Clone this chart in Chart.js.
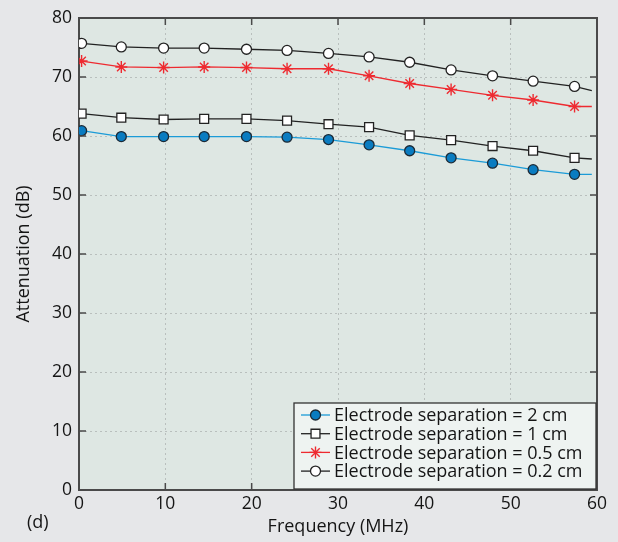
<!DOCTYPE html>
<html>
<head>
<meta charset="utf-8">
<script src="https://cdn.jsdelivr.net/npm/chart.js@4.4.1/dist/chart.umd.min.js"></script>
<style>
  html, body { margin: 0; padding: 0; background: #e6e7e9; }
  #wrap { width: 618px; height: 542px; position: relative; }
</style>
</head>
<body>
<div id="wrap"><canvas id="attChart"></canvas></div>
<script>
// frequency in MHz (last point is the line end, no marker)
const freqMHz = [0.3, 4.9, 9.8, 14.5, 19.4, 24.1, 28.9, 33.6, 38.3, 43.1, 47.9, 52.6, 57.4, 59.4];
const sep2cm  = [60.9, 59.9, 59.9, 59.9, 59.9, 59.8, 59.4, 58.5, 57.5, 56.3, 55.4, 54.3, 53.5, 53.5];
const sep1cm  = [63.8, 63.1, 62.8, 62.9, 62.9, 62.6, 62.0, 61.5, 60.1, 59.3, 58.3, 57.5, 56.3, 56.1];
const sep05cm = [72.7, 71.7, 71.6, 71.7, 71.6, 71.4, 71.4, 70.2, 68.9, 67.9, 66.9, 66.1, 65.0, 65.0];
const sep02cm = [75.7, 75.1, 74.9, 74.9, 74.7, 74.5, 74.0, 73.4, 72.5, 71.2, 70.2, 69.3, 68.4, 67.7];
const seriesLabels = [
    'Electrode separation = 2 cm',
    'Electrode separation = 1 cm',
    'Electrode separation = 0.5 cm',
    'Electrode separation = 0.2 cm'
];
const xTicks = [0, 10, 20, 30, 40, 50, 60];
const yTicks = [0, 10, 20, 30, 40, 50, 60, 70, 80];

const FONT = '"Open Sans", "DejaVu Sans", sans-serif';
const TEXT = '#151515';
const AXIS = '#4a4a4a';

function toPoints(vals) {
    return vals.map((v, i) => ({ x: freqMHz[i], y: v }));
}

function radii(r) {
    // no marker on the final line-end point
    return freqMHz.map((_, i) => (i === freqMHz.length - 1 ? 0 : r));
}

function makeSet(label, vals, line, style, r, fill, edge) {
    return {
        label: label,
        data: toPoints(vals),
        borderColor: line,
        borderWidth: 1.3,
        pointStyle: style,
        pointRadius: radii(r),
        pointHoverRadius: radii(r),
        pointBackgroundColor: fill,
        pointBorderColor: edge,
        pointBorderWidth: style === 'star' ? 1.4 : 1.3,
        tension: 0,
        fill: false
    };
}

const plotBg = {
    id: 'plotBg',
    beforeDraw(chart) {
        const { ctx, chartArea: a } = chart;
        ctx.save();
        ctx.fillStyle = '#dee7e3';
        ctx.fillRect(a.left, a.top, a.right - a.left, a.bottom - a.top);
        ctx.restore();
    }
};

// MATLAB style frame: inward ticks on all sides, top and right border
const frame = {
    id: 'frame',
    afterDatasetsDraw(chart) {
        const { ctx, chartArea: a, scales } = chart;
        const tl = 7;
        ctx.save();
        ctx.strokeStyle = AXIS;
        ctx.lineWidth = 1.5;
        ctx.beginPath();
        xTicks.forEach(v => {
            const px = scales.x.getPixelForValue(v);
            ctx.moveTo(px, a.bottom); ctx.lineTo(px, a.bottom - tl);
            ctx.moveTo(px, a.top); ctx.lineTo(px, a.top + tl);
        });
        yTicks.forEach(v => {
            const py = scales.y.getPixelForValue(v);
            ctx.moveTo(a.left, py); ctx.lineTo(a.left + tl, py);
            ctx.moveTo(a.right, py); ctx.lineTo(a.right - tl, py);
        });
        ctx.stroke();
        ctx.lineWidth = 2;
        ctx.beginPath();
        ctx.moveTo(a.left, a.top); ctx.lineTo(a.right, a.top); ctx.lineTo(a.right, a.bottom);
        ctx.stroke();

        // panel tag
        ctx.fillStyle = TEXT;
        ctx.font = '18px ' + FONT;
        ctx.textBaseline = 'middle';
        ctx.textAlign = 'left';
        ctx.fillText('(d)', 27, 523);
        ctx.restore();
    }
};

// legend box inside the lower right corner of the plot
const boxLegend = {
    id: 'boxLegend',
    afterDraw(chart) {
        const { ctx, chartArea: a } = chart;
        const x0 = 294, y0 = 403, x1 = a.right - 1, y1 = a.bottom - 1;
        ctx.save();
        ctx.fillStyle = '#eef3f1';
        ctx.fillRect(x0, y0, x1 - x0, y1 - y0);
        ctx.strokeStyle = '#333';
        ctx.lineWidth = 1.3;
        ctx.strokeRect(x0, y0, x1 - x0, y1 - y0);

        ctx.font = '18px ' + FONT;
        ctx.textBaseline = 'middle';
        ctx.textAlign = 'left';
        chart.data.datasets.forEach((ds, i) => {
            const cy = 415 + i * 18.7;
            ctx.strokeStyle = ds.borderColor;
            ctx.lineWidth = 1.3;
            ctx.beginPath();
            ctx.moveTo(301, cy); ctx.lineTo(330, cy);
            ctx.stroke();
            ctx.fillStyle = ds.pointBackgroundColor;
            ctx.strokeStyle = ds.pointBorderColor;
            ctx.lineWidth = ds.pointBorderWidth;
            Chart.helpers.drawPoint(ctx, {
                pointStyle: ds.pointStyle,
                radius: ds.pointRadius[0],
                borderWidth: ds.pointBorderWidth,
                rotation: 0
            }, 315.5, cy);
            ctx.fillStyle = TEXT;
            ctx.fillText(ds.label, 334, cy + 1);
        });
        ctx.restore();
    }
};

function drawChart() {
    const ctx = document.getElementById('attChart').getContext('2d');
    new Chart(ctx, {
        type: 'line',
        data: {
            datasets: [
                makeSet(seriesLabels[0], sep2cm, '#1b9bd7', 'circle', 5, '#0a7cc1', '#1c2a36'),
                makeSet(seriesLabels[1], sep1cm, '#222222', 'rect', 6.3, '#ffffff', '#222222'),
                makeSet(seriesLabels[2], sep05cm, '#ee2a30', 'star', 6, '#ee2a30', '#ee2a30'),
                makeSet(seriesLabels[3], sep02cm, '#222222', 'circle', 5, '#ffffff', '#222222')
            ]
        },
        options: {
            responsive: true,
            maintainAspectRatio: false,
            animation: false,
            events: [],
            layout: { padding: { top: 18, right: 21, left: 0, bottom: 0 } },
            plugins: {
                legend: { display: false },
                tooltip: { enabled: false }
            },
            scales: {
                x: {
                    type: 'linear',
                    min: 0,
                    max: 60,
                    afterBuildTicks: s => { s.ticks = xTicks.map(v => ({ value: v })); },
                    afterFit: s => { s.height = 52; },
                    ticks: { color: TEXT, font: { family: FONT, size: 17.5 }, padding: 4, maxRotation: 0 },
                    grid: { color: '#b9bfbd', lineWidth: 1, drawTicks: false },
                    border: { display: true, color: AXIS, width: 2, dash: [2, 3] },
                    title: {
                        display: true,
                        text: 'Frequency (MHz)',
                        color: TEXT,
                        font: { family: FONT, size: 18 },
                        padding: { top: 0, bottom: 4 }
                    }
                },
                y: {
                    type: 'linear',
                    min: 0,
                    max: 80,
                    afterBuildTicks: s => { s.ticks = yTicks.map(v => ({ value: v })); },
                    afterFit: s => { s.width = 79; },
                    ticks: { color: TEXT, font: { family: FONT, size: 17.5 }, padding: 7 },
                    grid: { color: '#b9bfbd', lineWidth: 1, drawTicks: false },
                    border: { display: true, color: AXIS, width: 2, dash: [2, 3] },
                    title: {
                        display: true,
                        text: 'Attenuation (dB)',
                        color: TEXT,
                        font: { family: FONT, size: 18 },
                        padding: { top: 13, bottom: 0 }
                    }
                }
            }
        },
        plugins: [plotBg, frame, boxLegend]
    });
}

document.addEventListener('DOMContentLoaded', drawChart);
</script>
</body>
</html>
